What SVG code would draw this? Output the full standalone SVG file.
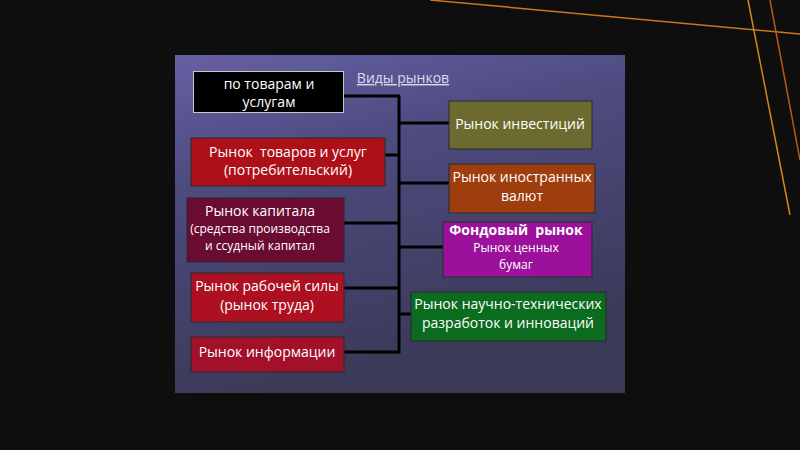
<svg xmlns="http://www.w3.org/2000/svg" width="800" height="450" viewBox="0 0 800 450">
<defs>
<linearGradient id="panel" x1="0" y1="0" x2="0.3" y2="1">
<stop offset="0" stop-color="#6660a4"/>
<stop offset="0.35" stop-color="#4e4b80"/>
<stop offset="1" stop-color="#3a3956"/>
</linearGradient>
<style>
text{font-family:"Open Sans","Noto Sans","DejaVu Sans",sans-serif;fill:#ffffff;text-anchor:middle;font-size:14px}
.box{stroke:#2a2a2a;stroke-width:1}
.conn line{stroke:#000000;stroke-width:3}
.small{font-size:12px}
.deco{fill:none;stroke-width:1.5}
</style>
</defs>
<rect width="800" height="450" fill="#0e0e0e"/>
<g id="decor">
<line class="deco" x1="430" y1="0" x2="800" y2="34" stroke="#c8781e"/>
<line class="deco" x1="748" y1="0" x2="790" y2="215" stroke="#d4871a"/>
<line class="deco" x1="770" y1="0" x2="800" y2="160" stroke="#b8561a"/>
</g>
<rect x="175" y="55" width="450" height="338" fill="url(#panel)"/>
<text x="403" y="83" style="fill:#dcdcea;text-decoration:underline" font-size="14">Виды рынков</text>
<g class="conn" id="connectors">
<line x1="399" y1="96" x2="399" y2="353.5"/>
<line x1="344" y1="96" x2="400" y2="96"/>
<line x1="399" y1="123" x2="449" y2="123"/>
<line x1="385" y1="155" x2="400" y2="155"/>
<line x1="399" y1="183" x2="449" y2="183"/>
<line x1="344" y1="223" x2="400" y2="223"/>
<line x1="399" y1="247" x2="443" y2="247"/>
<line x1="344" y1="288" x2="400" y2="288"/>
<line x1="399" y1="314" x2="411" y2="314"/>
<line x1="344" y1="352" x2="400" y2="352"/>
</g>
<g id="n-tovary">
<rect x="193.5" y="71.5" width="150" height="41" fill="#000000" stroke="#c8c8c8" stroke-width="1"/>
<text x="269" y="89" font-size="15">по товарам и</text>
<text x="269" y="107" font-size="15">услугам</text>
</g>
<g id="n-potreb">
<rect class="box" x="191" y="138" width="194" height="48" fill="#ad1018"/>
<text x="288" y="157" style="white-space:pre">Рынок  товаров и услуг</text>
<text x="288" y="175">(потребительский)</text>
</g>
<g id="n-kapital">
<rect class="box" x="187" y="198" width="157" height="64" fill="#6a0b32"/>
<text x="260" y="216">Рынок капитала</text>
<text class="small" x="260" y="233">(средства производства</text>
<text class="small" x="260" y="250">и ссудный капитал</text>
</g>
<g id="n-trud">
<rect class="box" x="191" y="273" width="153" height="49" fill="#ad1020"/>
<text x="267" y="291">Рынок рабочей силы</text>
<text x="267" y="310">(рынок труда)</text>
</g>
<g id="n-info">
<rect class="box" x="191" y="337" width="153" height="35" fill="#a3102a"/>
<text x="267" y="357">Рынок информации</text>
</g>
<g id="n-invest">
<rect class="box" x="449" y="101" width="143" height="48" fill="#6c6a2e"/>
<text x="520" y="129">Рынок инвестиций</text>
</g>
<g id="n-valut">
<rect class="box" x="449" y="164" width="146" height="49" fill="#9e3e0f"/>
<text x="522" y="182">Рынок иностранных</text>
<text x="522" y="201">валют</text>
</g>
<g id="n-fond">
<rect class="box" x="443" y="222" width="149" height="55" fill="#9c119c"/>
<text x="516" y="235" font-weight="bold" style="white-space:pre">Фондовый  рынок</text>
<text class="small" x="516" y="252">Рынок ценных</text>
<text class="small" x="516" y="269">бумаг</text>
</g>
<g id="n-nauka">
<rect class="box" x="411" y="292" width="195" height="49" fill="#0b6b1e"/>
<text x="508" y="309">Рынок научно-технических</text>
<text x="508" y="328">разработок и инноваций</text>
</g>
</svg>
